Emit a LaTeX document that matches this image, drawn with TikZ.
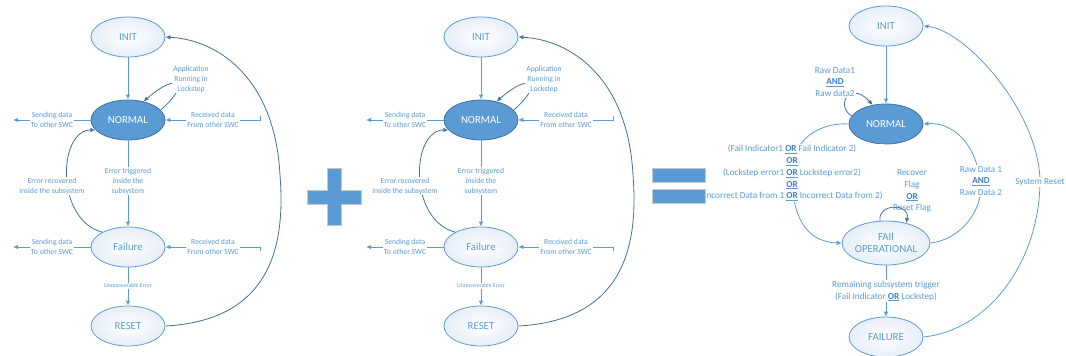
\documentclass[tikz,border=0pt]{standalone}
\usepackage{fontspec}
\setmainfont{Carlito}
\usetikzlibrary{shapes.geometric,arrows.meta}
\definecolor{cblue}{HTML}{5B9BD5}
\definecolor{cdark}{HTML}{41719C}
\definecolor{ctext}{HTML}{5B9BD5}
\definecolor{ckey}{HTML}{3F7FC0}
\definecolor{cpale}{HTML}{E6EEF8}
\newcommand\kwOR{\underline{\textbf{\color{ckey}OR}}}
\newcommand\kwAND{\underline{\textbf{\color{ckey}AND}}}
\tikzset{
  stbase/.style={ellipse, line width=0.8pt, minimum width=74pt, minimum height=40pt,
    inner sep=0pt, align=center, font=\fontsize{10.8}{12.5}\selectfont},
  state/.style={stbase, draw=cblue, inner color=white, outer color=cpale, text=ctext},
  activestate/.style={stbase, draw=cdark, fill=cblue, text=white},
  tipped/.style={-{Latex[length=5pt,width=4.5pt]}},
  flow/.style={draw=cblue, line width=0.8pt, tipped},
  curvearrow/.style={draw=cdark, line width=0.8pt, tipped},
  lightcurve/.style={draw=cblue, line width=0.8pt, tipped},
  lbl/.style={text=ctext, font=\fontsize{7.7}{10}\selectfont, align=center, fill=white, inner sep=1pt},
  biglbl/.style={lbl, font=\fontsize{9.2}{11.7}\selectfont},
  tinylbl/.style={lbl, font=\fontsize{5.8}{7}\selectfont},
  sign/.style={fill=cblue, draw=black!22, line width=1pt}
}
% one lockstep subsystem state machine
\newcommand\lockstepmachine{%
  \node[state] (init) at (128,37) {INIT};
  \node[activestate] (normal) at (128,120) {NORMAL};
  \node[state] (fail) at (128,247) {Failure};
  \node[state] (reset) at (128,326) {RESET};
  \coordinate (sendN) at (13,120);
  \coordinate (recvN) at (260,116);
  \coordinate (sendF) at (13,247);
  \coordinate (recvF) at (260,251);
  \draw[flow] (init.south) -- (normal.north);
  \draw[curvearrow] (normal.17) .. controls (190,85) and (180,70) .. (normal.50);
  \draw[flow] (normal.west) -- (sendN);
  \draw[flow] (recvN) -- (260,120) -- (normal.east);
  \draw[flow] (normal.south) -- (fail.north);
  \draw[curvearrow] (fail.150) .. controls (55,220) and (58,130) .. (normal.197);
  \draw[flow] (fail.west) -- (sendF);
  \draw[flow] (recvF) -- (260,247) -- (fail.east);
  \draw[flow] (fail.south) -- (reset.north);
  \draw[curvearrow] (reset.east) .. controls (275,320) and (285,240) .. (280,175)
     .. controls (275,80) and (220,40) .. (init.east);
  \node[lbl] (app) at (191,79) {Application\\Running in\\Lockstep};
  \node[lbl] (sendNl) at (52,120) {Sending data\\To other SWC};
  \node[lbl] (recvNl) at (213,120) {Received data\\From other SWC};
  \node[lbl] (errt) at (128,181) {Error triggered\\inside the\\subsystem};
  \node[lbl] (errr) at (52,186) {Error recovered\\inside the subsystem};
  \node[lbl] (sendFl) at (52,247) {Sending data\\To other SWC};
  \node[lbl] (recvFl) at (213,247) {Received data\\From other SWC};
  \node[tinylbl] (unrec) at (128,286) {Unrecoverable Error};
}
\begin{document}
\begin{tikzpicture}[x=1pt,y=-1pt]
  \useasboundingbox (0,0) rectangle (1066,356);
  \begin{scope}[name prefix=a-]
    \lockstepmachine
  \end{scope}
  \begin{scope}[xshift=353pt, name prefix=b-]
    \lockstepmachine
  \end{scope}
  % plus sign
  \draw[sign] (327.7,168.3) -- (341.7,168.3) -- (341.7,190) -- (361.7,190) -- (361.7,204.3)
    -- (341.7,204.3) -- (341.7,225.7) -- (327.7,225.7) -- (327.7,204.3) -- (307.7,204.3)
    -- (307.7,190) -- (327.7,190) -- cycle;
  % combined fail-operational state machine
  \node[state] (rinit) at (886,26) {INIT};
  \node[activestate] (rnormal) at (886,124) {NORMAL};
  \node[state, minimum width=80pt, minimum height=44pt] (rfo) at (886,243) {FAIl\\OPERATIONAL};
  \node[state] (rfailure) at (886,337) {FAILURE};
  \draw[flow] (rinit.south) -- (rnormal.north);
  \draw[curvearrow] (rnormal.167) .. controls (835,105) and (850,80) .. (rnormal.125);
  \draw[lightcurve] (rnormal.west) .. controls (820,122) and (790,140) .. (792,175)
     .. controls (792,215) and (805,242) .. (rfo.west);
  \draw[lightcurve] (rfo.east) .. controls (960,240) and (985,210) .. (980,180)
     .. controls (975,140) and (950,122) .. (rnormal.east);
  \draw[flow] (rfo.south) -- (rfailure.north);
  \draw[lightcurve] (rfailure.east) .. controls (990,330) and (1040,260) .. (1040,180)
     .. controls (1038,110) and (965,30) .. (rinit.east);
  \node[biglbl] (raw1) at (835,82) {Raw Data1\\\kwAND\\Raw data2};
  \node[biglbl] (cond) at (792,173) {(Fail Indicator1 \kwOR{} Fail Indicator 2)\\\kwOR\\(Lockstep error1 \kwOR{} Lockstep error2)\\\kwOR\\(Incorrect Data from 1 \kwOR{} Incorrect Data from 2)};
  \node[biglbl, fill=none] (recov) at (912,191) {Recover\\Flag\\\kwOR\\Reset Flag};
  \draw[curvearrow] (rfo.105) .. controls (877,203) and (911,203) .. (rfo.45);
  \node[biglbl] (raw2) at (981,181) {Raw Data 1\\\kwAND\\Raw Data 2};
  \node[biglbl] (remain) at (886,291) {Remaining subsystem trigger\\(Fail Indicator \kwOR{} Lockstep)};
  \node[biglbl] (sysreset) at (1040,182) {System Reset};
  % equals sign
  \draw[sign] (652.7,168.3) rectangle (705,182.7);
  \draw[sign] (652.7,189.3) rectangle (705,203.3);
\end{tikzpicture}
\end{document}
